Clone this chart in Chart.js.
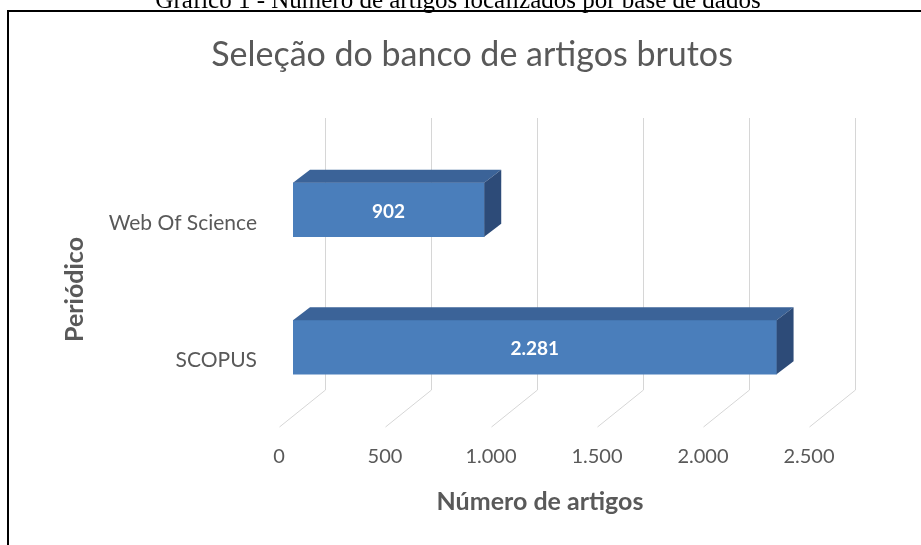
<!DOCTYPE html>
<html lang="pt-BR">
<head>
<meta charset="utf-8">
<title>Seleção do banco de artigos brutos</title>
<script src="https://cdn.jsdelivr.net/npm/chart.js@4.4.1/dist/chart.umd.min.js"></script>
<style>
    html, body { margin: 0; padding: 0; background: #ffffff; }
    #wrap { position: relative; width: 921px; height: 545px; }
</style>
</head>
<body>
<div id="wrap"><canvas id="chart"></canvas></div>
<script>
// Chart data
const caption = 'Gráfico 1 - Número de artigos localizados por base de dados';
const chartTitle = 'Seleção do banco de artigos brutos';
const yAxisTitle = 'Periódico';
const xAxisTitle = 'Número de artigos';
const categories = ['Web Of Science', 'SCOPUS'];
const articleCounts = [902, 2281];
const xMin = 0;
const xMax = 2500;
const xStep = 500;

// Colours / fonts
const textGrey = '#595959';
const gridGrey = '#d6d6d6';
const barFront = '#4a7ebb';
const barTop = '#3b6398';
const barSide = '#2d4b78';
const sans = "Lato, 'Open Sans', sans-serif";

// 3D offsets (px) relative to the bar front plane
const BACK_DX = 32;
const FLOOR_DX = -14;
const BAR_DX = 17;
const BAR_DY = -13;

/**
 * Format a number with a dot as thousands separator (pt-BR)
 * @param {number} num
 * @returns {string}
 */
function formatNumber(num) {
    return String(num).replace(/\B(?=(\d{3})+(?!\d))/g, '.');
}

const threeD = {
    id: 'threeD',
    beforeDraw(chart) {
        const ctx = chart.ctx;
        ctx.save();
        // caption above the frame (cut off at the top)
        ctx.fillStyle = '#000';
        ctx.font = "25px 'Liberation Serif', 'Times New Roman', serif";
        ctx.textAlign = 'center';
        ctx.textBaseline = 'alphabetic';
        ctx.fillText(caption, 458, 8);
        // frame
        ctx.fillRect(7, 10, 914, 2);
        ctx.fillRect(7, 10, 2, chart.height);
        // chart title
        ctx.fillStyle = textGrey;
        ctx.font = '34px ' + sans;
        ctx.textBaseline = 'middle';
        ctx.fillText(chartTitle, 472, 55);
        ctx.restore();
    },
    beforeDatasetsDraw(chart) {
        const ctx = chart.ctx;
        const area = chart.chartArea;
        const x = chart.scales.x;
        const wallTop = area.top - 23;
        const wallBottom = area.bottom - 26;
        const floorFront = area.bottom + 11;
        ctx.save();
        ctx.strokeStyle = gridGrey;
        ctx.lineWidth = 1;
        x.ticks.forEach(t => {
            const px = Math.round(x.getPixelForValue(t.value)) + 0.5;
            ctx.beginPath();
            ctx.moveTo(px + BACK_DX, wallTop);
            ctx.lineTo(px + BACK_DX, wallBottom);
            ctx.lineTo(px + FLOOR_DX, floorFront);
            ctx.stroke();
        });
        ctx.restore();
    },
    afterDatasetsDraw(chart) {
        const ctx = chart.ctx;
        const area = chart.chartArea;
        const meta = chart.getDatasetMeta(0);
        ctx.save();
        meta.data.forEach((bar, i) => {
            const p = bar.getProps(['x', 'y', 'base', 'height'], true);
            const top = p.y - p.height / 2;
            const bottom = p.y + p.height / 2;
            // top face
            ctx.fillStyle = barTop;
            ctx.beginPath();
            ctx.moveTo(p.base, top);
            ctx.lineTo(p.base + BAR_DX, top + BAR_DY);
            ctx.lineTo(p.x + BAR_DX, top + BAR_DY);
            ctx.lineTo(p.x, top);
            ctx.closePath();
            ctx.fill();
            // right face
            ctx.fillStyle = barSide;
            ctx.beginPath();
            ctx.moveTo(p.x, top);
            ctx.lineTo(p.x + BAR_DX, top + BAR_DY);
            ctx.lineTo(p.x + BAR_DX, bottom + BAR_DY);
            ctx.lineTo(p.x, bottom);
            ctx.closePath();
            ctx.fill();
            // value label
            ctx.fillStyle = '#ffffff';
            ctx.font = 'bold 19px ' + sans;
            ctx.textAlign = 'center';
            ctx.textBaseline = 'middle';
            ctx.fillText(formatNumber(articleCounts[i]), (p.base + p.x) / 2, p.y + 2);
        });
        // axis titles
        ctx.fillStyle = textGrey;
        ctx.font = 'bold 25px ' + sans;
        ctx.textAlign = 'center';
        ctx.textBaseline = 'middle';
        ctx.fillText(xAxisTitle, (area.left + area.right) / 2 - 18, area.bottom + 86);
        ctx.translate(75, (area.top + area.bottom) / 2 + 11);
        ctx.rotate(-Math.PI / 2);
        ctx.fillText(yAxisTitle, 0, 0);
        ctx.restore();
    }
};

const ctx = document.getElementById('chart').getContext('2d');
window.chartObj = new Chart(ctx, {
    type: 'bar',
    data: {
        labels: categories,
        datasets: [{
            label: xAxisTitle,
            data: articleCounts,
            backgroundColor: barFront,
            borderWidth: 0,
            barThickness: 54
        }]
    },
    options: {
        indexAxis: 'y',
        responsive: true,
        maintainAspectRatio: false,
        animation: false,
        layout: {
            padding: { top: 141, left: 24, right: 98, bottom: 0 }
        },
        plugins: {
            legend: { display: false },
            tooltip: { enabled: false }
        },
        scales: {
            x: {
                min: xMin,
                max: xMax,
                grid: { display: false, drawTicks: false },
                border: { display: false },
                ticks: {
                    stepSize: xStep,
                    padding: 29,
                    labelOffset: FLOOR_DX,
                    color: textGrey,
                    font: { family: sans, size: 20 },
                    callback: v => formatNumber(v)
                },
                afterFit: s => { s.height = 129; }
            },
            y: {
                grid: { display: false, drawTicks: false },
                border: { display: false },
                ticks: {
                    padding: 36,
                    labelOffset: 13,
                    color: textGrey,
                    font: { family: sans, size: 21 }
                },
                afterFit: s => { s.width = 269; }
            }
        }
    },
    plugins: [threeD]
});
</script>
</body>
</html>
